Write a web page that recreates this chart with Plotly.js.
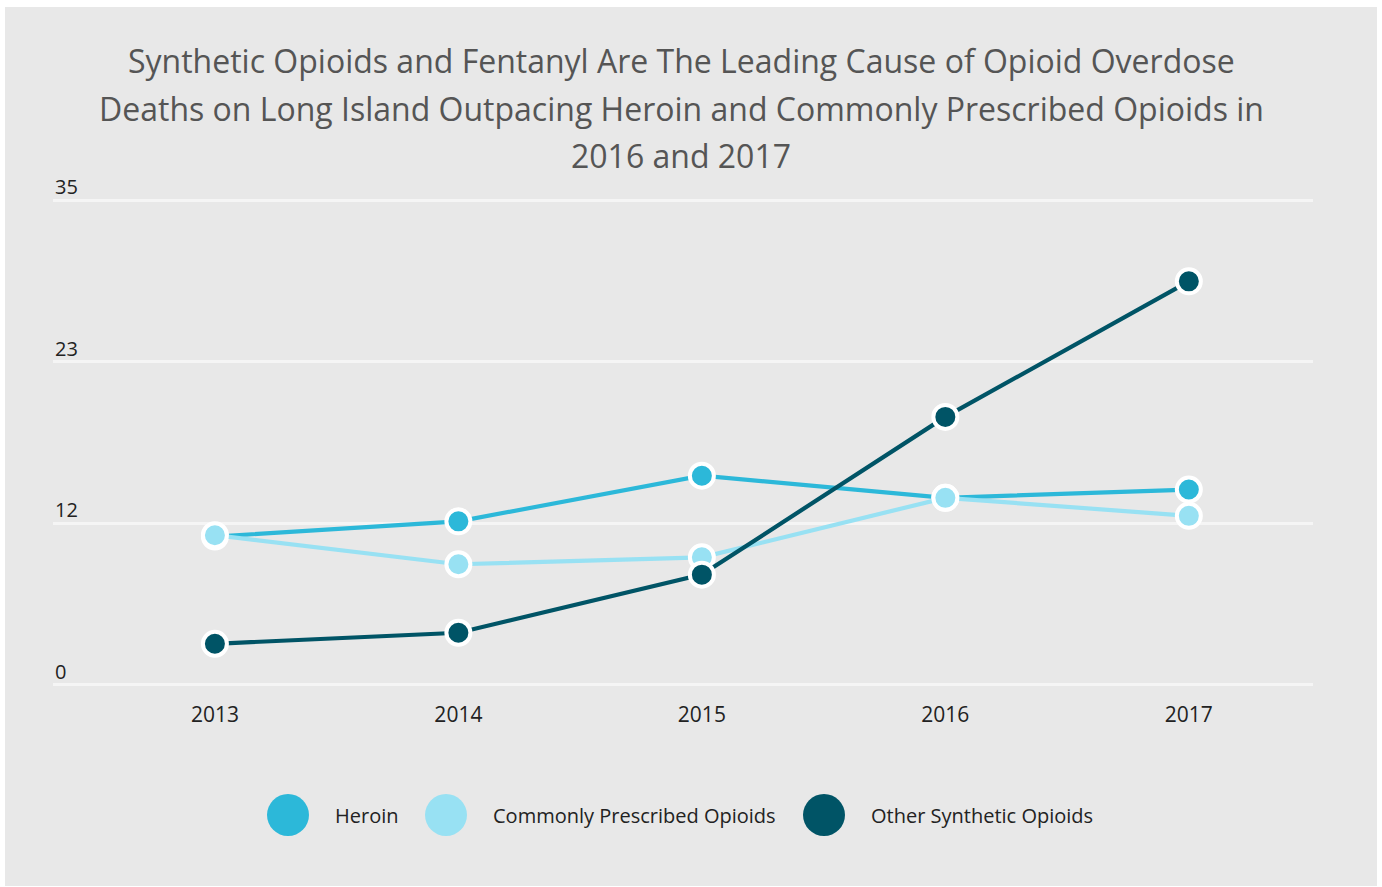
<!DOCTYPE html>
<html>
<head>
<meta charset="utf-8">
<script src="https://cdn.plot.ly/plotly-3.0.1.min.js"></script>
<style>
  html, body { margin: 0; padding: 0; background: #ffffff; }
  #chart { position: absolute; left: 5px; top: 7px; width: 1372px; height: 879px; }
</style>
</head>
<body>
<div id="chart"></div>
<script>
const years = [2013, 2014, 2015, 2016, 2017];
const seriesNames = ["Heroin", "Commonly Prescribed Opioids", "Other Synthetic Opioids"];
const heroin = [10.7, 11.8, 15.1, 13.5, 14.1];
const prescribed = [10.8, 8.7, 9.2, 13.5, 12.2];
const synthetic = [2.95, 3.75, 7.95, 19.35, 29.15];
const seriesColors = ["#2cb8d9", "#98e1f3", "#005466"];
const yTickVals = [0, 35 / 3, 70 / 3, 35];
const yTickText = ["0", "12", "23", "35"];
const titleLines = [
  "Synthetic Opioids and Fentanyl Are The Leading Cause of Opioid Overdose",
  "Deaths on Long Island Outpacing Heroin and Commonly Prescribed Opioids in",
  "2016 and 2017"
];

const W = 1372, H = 879;
const M = { l: 48, r: 64, t: 192, b: 200 };
const plotW = W - M.l - M.r, plotH = H - M.t - M.b;
const px2x = px => (px - M.l) / plotW;
const px2y = py => 1 - (py - M.t) / plotH;

const seriesValues = [heroin, prescribed, synthetic];
const traces = seriesValues.map((vals, i) => ({
  type: "scatter",
  mode: "lines+markers",
  name: seriesNames[i],
  x: years,
  y: vals,
  line: { color: seriesColors[i], width: 4.2 },
  marker: { color: seriesColors[i], size: 24, line: { color: "#ffffff", width: 4 } },
  cliponaxis: false,
  showlegend: false,
  hoverinfo: "x+y+name"
}));

const shapes = [];
const annotations = [];

// title, one annotation per line
titleLines.forEach((t, i) => {
  annotations.push({
    xref: "paper", yref: "paper", showarrow: false,
    x: px2x(676), y: px2y(54 + i * 47.3),
    xanchor: "center", yanchor: "middle",
    text: t, font: { family: "Open Sans", size: 32, color: "#555555" }
  });
});

// y tick labels sitting above the grid lines
yTickVals.forEach((v, i) => {
  annotations.push({
    xref: "paper", yref: "y", showarrow: false,
    x: 0, y: v, xanchor: "left", yanchor: "bottom", yshift: -2,
    text: yTickText[i], font: { family: "Open Sans", size: 20, color: "#222222" }
  });
});

// custom legend (large circles) built from series names/colours
const legendCenters = [283, 441, 819];
const legendY = 808;
seriesNames.forEach((n, i) => {
  const cx = legendCenters[i], r = 21;
  shapes.push({
    type: "circle", xref: "paper", yref: "paper", layer: "above",
    x0: px2x(cx - r), x1: px2x(cx + r),
    y0: px2y(legendY + r), y1: px2y(legendY - r),
    fillcolor: seriesColors[i], line: { width: 0 }
  });
  annotations.push({
    xref: "paper", yref: "paper", showarrow: false,
    x: px2x(cx + 45), y: px2y(legendY),
    xanchor: "left", yanchor: "middle",
    text: n, font: { family: "Open Sans", size: 20, color: "#222222" }
  });
});

const layout = {
  width: W, height: H,
  paper_bgcolor: "#e8e8e8",
  plot_bgcolor: "#e8e8e8",
  margin: M,
  font: { family: "Open Sans", color: "#222222" },
  xaxis: {
    type: "linear",
    range: [2012.335, 2017.51],
    tickvals: years,
    ticktext: years.map(String),
    showgrid: false, zeroline: false, showline: false,
    ticks: "", ticklabelstandoff: 14,
    tickfont: { family: "Open Sans", size: 21, color: "#222222" },
    fixedrange: true
  },
  yaxis: {
    range: [-0.1, 35.1],
    tickvals: yTickVals,
    showticklabels: false,
    showgrid: true, gridcolor: "#f5f5f5", gridwidth: 3,
    zeroline: false, showline: false, ticks: "",
    fixedrange: true
  },
  shapes: shapes,
  annotations: annotations,
  hovermode: "closest"
};

Plotly.newPlot("chart", traces, layout, { displayModeBar: false, responsive: false });
</script>
</body>
</html>
